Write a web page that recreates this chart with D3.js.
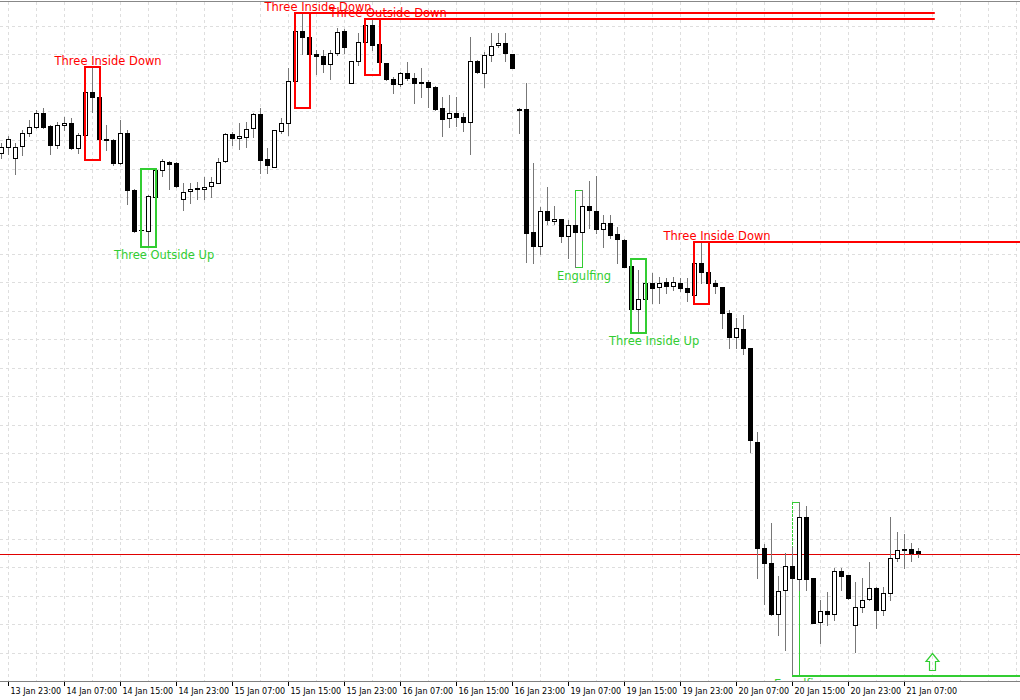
<!DOCTYPE html>
<html>
<head>
<meta charset="utf-8">
<script src="https://cdn.jsdelivr.net/npm/d3@7"></script>
<style>
  body { margin: 0; background: #fff; }
  svg { display: block; }
</style>
</head>
<body>
<div id="chart"></div>
<script>
// hourly candles, 13 Jan 22:00 .. 21 Jan 09:00 (weekend skipped)
var open = [1.1847,1.1853,1.1842,1.1854,1.1867,1.1873,1.1887,1.1874,1.1855,1.1875,
  1.1877,1.1852,1.1865,1.1908,1.1903,1.1861,1.1860,1.1837,1.1867,1.1810,
  1.1770,1.1769,1.1803,1.1830,1.1838,1.1837,1.1801,1.1809,1.1812,1.1811,
  1.1814,1.1817,1.1839,1.1866,1.1862,1.1863,1.1872,1.1886,1.1841,1.1833,
  1.1869,1.1877,1.1919,1.1969,1.1963,1.1946,1.1944,1.1936,1.1947,1.1969,
  1.1917,1.1939,1.1958,1.1975,1.1956,1.1937,1.1921,1.1916,1.1927,1.1922,
  1.1918,1.1918,1.1913,1.1892,1.1882,1.1887,1.1883,1.1878,1.1939,1.1927,
  1.1945,1.1955,1.1957,1.1946,1.1891,1.1891,1.1768,1.1754,1.1789,1.1779,
  1.1781,1.1764,1.1775,1.1768,1.1794,1.1789,1.1771,1.1777,1.1766,1.1760,
  1.1734,1.1691,1.1701,1.1717,1.1713,1.1718,1.1714,1.1717,1.1712,1.1705,
  1.1737,1.1728,1.1717,1.1713,1.1687,1.1663,1.1671,1.1652,1.1558,1.1452,
  1.1437,1.1386,1.1410,1.1434,1.1421,1.1483,1.1422,1.1378,1.1389,1.1386,
  1.1429,1.1425,1.1375,1.1393,1.1401,1.1412,1.1390,1.1407,1.1442,1.1451,
  1.1451,1.1449];
var high = [1.1857,1.1864,1.1857,1.1870,1.1880,1.1890,1.1892,1.1875,1.1878,1.1883,
  1.1882,1.1867,1.1910,1.1933,1.1922,1.1875,1.1861,1.1880,1.1870,1.1811,
  1.1785,1.1805,1.1831,1.1841,1.1839,1.1838,1.1817,1.1817,1.1818,1.1823,
  1.1823,1.1842,1.1867,1.1868,1.1877,1.1878,1.1887,1.1892,1.1852,1.1870,
  1.1882,1.1932,1.1987,1.1987,1.1969,1.1950,1.1950,1.1950,1.1972,1.1971,
  1.1939,1.1967,1.1981,1.1981,1.1957,1.1937,1.1923,1.1928,1.1938,1.1927,
  1.1932,1.1920,1.1914,1.1903,1.1905,1.1903,1.1887,1.1963,1.1940,1.1948,
  1.1967,1.1967,1.1967,1.1946,1.1892,1.1917,1.1837,1.1793,1.1813,1.1794,
  1.1781,1.1780,1.1780,1.1810,1.1819,1.1824,1.1785,1.1785,1.1773,1.1761,
  1.1741,1.1730,1.1723,1.1727,1.1723,1.1722,1.1723,1.1722,1.1722,1.1758,
  1.1757,1.1737,1.1720,1.1713,1.1690,1.1682,1.1685,1.1652,1.1568,1.1456,
  1.1477,1.1424,1.1447,1.1453,1.1498,1.1494,1.1422,1.1400,1.1408,1.1432,
  1.1432,1.1425,1.1418,1.1422,1.1438,1.1413,1.1413,1.1483,1.1468,1.1466,
  1.1457,1.1452];
var low = [1.1842,1.1846,1.1826,1.1845,1.1864,1.1872,1.1872,1.1846,1.1852,1.1870,
  1.1851,1.1847,1.1841,1.1888,1.1860,1.1850,1.1835,1.1836,1.1796,1.1768,
  1.1768,1.1754,1.1803,1.1824,1.1811,1.1813,1.1790,1.1797,1.1801,1.1801,
  1.1803,1.1817,1.1838,1.1855,1.1851,1.1853,1.1863,1.1827,1.1827,1.1833,
  1.1867,1.1865,1.1893,1.1946,1.1926,1.1926,1.1928,1.1921,1.1945,1.1947,
  1.1917,1.1935,1.1953,1.1950,1.1926,1.1920,1.1907,1.1914,1.1920,1.1897,
  1.1903,1.1893,1.1890,1.1864,1.1873,1.1874,1.1869,1.1846,1.1927,1.1913,
  1.1939,1.1953,1.1939,1.1932,1.1867,1.1738,1.1737,1.1746,1.1776,1.1776,
  1.1758,1.1742,1.1733,1.1760,1.1772,1.1767,1.1753,1.1762,1.1737,1.1733,
  1.1690,1.1668,1.1690,1.1697,1.1697,1.1707,1.1710,1.1709,1.1699,1.1697,
  1.1717,1.1697,1.1707,1.1672,1.1652,1.1652,1.1646,1.1548,1.1422,1.1396,
  1.1385,1.1365,1.1350,1.1325,1.1410,1.1410,1.1377,1.1357,1.1375,1.1380,
  1.1410,1.1401,1.1348,1.1388,1.1400,1.1372,1.1385,1.1400,1.1439,1.1432,
  1.1439,1.1443];
var close = [1.1853,1.1861,1.1853,1.1867,1.1873,1.1887,1.1873,1.1855,1.1875,1.1877,
  1.1852,1.1865,1.1908,1.1903,1.1861,1.1860,1.1837,1.1867,1.1810,1.1769,
  1.1770,1.1804,1.1830,1.1839,1.1836,1.1814,1.1808,1.1811,1.1811,1.1813,
  1.1818,1.1838,1.1866,1.1862,1.1864,1.1871,1.1886,1.1840,1.1835,1.1870,
  1.1877,1.1919,1.1969,1.1963,1.1946,1.1944,1.1936,1.1947,1.1968,1.1953,
  1.1939,1.1958,1.1975,1.1955,1.1938,1.1921,1.1916,1.1927,1.1922,1.1917,
  1.1917,1.1913,1.1891,1.1881,1.1887,1.1883,1.1878,1.1939,1.1928,1.1945,
  1.1954,1.1957,1.1947,1.1932,1.1890,1.1767,1.1754,1.1789,1.1780,1.1781,
  1.1764,1.1775,1.1768,1.1794,1.1790,1.1771,1.1777,1.1765,1.1761,1.1733,
  1.1691,1.1701,1.1717,1.1712,1.1717,1.1714,1.1718,1.1712,1.1708,1.1737,
  1.1728,1.1717,1.1714,1.1687,1.1663,1.1672,1.1652,1.1560,1.1452,1.1437,
  1.1386,1.1409,1.1434,1.1422,1.1483,1.1421,1.1377,1.1389,1.1386,1.1429,
  1.1424,1.1402,1.1393,1.1400,1.1412,1.1390,1.1407,1.1442,1.1450,1.1450,
  1.1447,1.1447];

var bid = 1.1446;

// time axis labels (every 8 bars, starting at bar 1)
var tickLabels = ["13 Jan 23:00","14 Jan 07:00","14 Jan 15:00","14 Jan 23:00","15 Jan 07:00",
  "15 Jan 15:00","15 Jan 23:00","16 Jan 07:00","16 Jan 15:00","16 Jan 23:00","19 Jan 07:00",
  "19 Jan 15:00","19 Jan 23:00","20 Jan 07:00","20 Jan 15:00","20 Jan 23:00","21 Jan 07:00"];
var tickIdx = tickLabels.map(function(d, i){ return 1 + i * 8; });

// candle patterns found by the indicator
var patName  = ["Three Inside Down","Three Outside Up","Three Inside Down","Three Outside Down",
                "Engulfing","Three Inside Up","Three Inside Down","Engulfing"];
var patStart = [12, 20, 42, 52, 82, 90, 99, 113];
var patEnd   = [14, 22, 44, 54, 83, 92, 101, 114];
var patBear  = [true, false, true, true, false, false, true, false];
var patLabelAt = [15.3, 23.3, 45.3, 55.3, 83.3, 93.3, 102.3, 114.3];
// level line end (bar index), null = no line, Infinity = right edge
var patLineEnd = [null, null, 133.4, 133.4, null, null, Infinity, Infinity];
var arrowIdx = 133;

var W = 1020, H = 700, plotBottom = 681;
var RED = "#ff0000", GREEN = "#32cd32";

var svg = d3.select("#chart").append("svg")
    .attr("width", W).attr("height", H)
    .style("font-family", "'DejaVu Sans', sans-serif");

svg.append("rect").attr("width", W).attr("height", H).attr("fill", "#fff");

var x = d3.scaleLinear().domain([0, 131]).range([1, 918]);
var y = d3.scaleLinear().domain([1.2, 1.13]).range([0, 700]);

svg.append("defs").append("clipPath").attr("id", "plot")
  .append("rect").attr("x", 0).attr("y", 2).attr("width", W).attr("height", plotBottom - 2);

var plot = svg.append("g").attr("clip-path", "url(#plot)");

// grid
var gridTop = 1.1974, gridStep = 0.00285;
var hGrid = d3.range(0, 23).map(function(k){ return gridTop - k * gridStep; });
var vGrid = d3.range(1, 146, 4);
var grid = plot.append("g").attr("stroke", "#dedede").attr("stroke-dasharray", "3,3")
    .attr("shape-rendering", "crispEdges");
grid.selectAll(".h").data(hGrid).enter().append("line")
    .attr("x1", 0).attr("x2", W)
    .attr("y1", function(d){ return Math.round(y(d)) + 0.5; })
    .attr("y2", function(d){ return Math.round(y(d)) + 0.5; });
grid.selectAll(".v").data(vGrid).enter().append("line")
    .attr("y1", 2).attr("y2", plotBottom)
    .attr("x1", function(d){ return Math.round(x(d)) + 0.5; })
    .attr("x2", function(d){ return Math.round(x(d)) + 0.5; });

// bid line
plot.append("line").attr("x1", 0).attr("x2", W)
    .attr("y1", Math.round(y(bid)) + 0.5).attr("y2", Math.round(y(bid)) + 0.5)
    .attr("stroke", "#e00000").attr("stroke-width", 1).attr("shape-rendering", "crispEdges");

// patterns: box geometry
var pats = d3.range(patName.length).map(function(k){
  var r = d3.range(patStart[k], patEnd[k] + 1);
  var hi = d3.max(r, function(i){ return high[i]; });
  var lo = d3.min(r, function(i){ return low[i]; });
  var x0 = Math.round(x(patStart[k])), x1 = Math.round(x(patEnd[k])) + 1;
  var y0 = Math.round(y(hi)), y1 = Math.round(y(lo)) + 1;
  return {k: k, x0: x0, x1: x1, y0: y0, y1: y1, col: patBear[k] ? RED : GREEN,
          thin: patName[k] === "Engulfing"};
});

function drawBox(g, p) {
  var sw = p.thin ? 1 : 2;
  var off = p.thin ? 0.5 : 0;
  var l = p.x0 + off, r = p.x1 - off, t = p.y0 + off, b = p.y1 - off;
  var sides = [
    {s: "top", a: [l, t, r, t]}, {s: "bottom", a: [l, b, r, b]},
    {s: "left", a: [l, t, l, b]}, {s: "right", a: [r, t, r, b]}
  ];
  // the side sitting on the last/first wick is drawn dotted, as in the terminal
  var dotted = p.k === 6 ? "right" : (p.k === 7 ? "left" : null);
  sides.forEach(function(sd){
    g.append("line")
      .attr("x1", sd.a[0]).attr("y1", sd.a[1]).attr("x2", sd.a[2]).attr("y2", sd.a[3])
      .attr("stroke", p.col).attr("stroke-width", sd.s === dotted ? 1.5 : sw)
      .attr("stroke-dasharray", sd.s === dotted ? "2,2" : null)
      .attr("stroke-linecap", "square");
  });
}

// thin engulfing boxes sit under the candles
var under = plot.append("g").attr("shape-rendering", "crispEdges");
pats.filter(function(p){ return p.thin; }).forEach(function(p){ drawBox(under, p); });

// candles
var bars = d3.range(open.length);
var cg = plot.append("g").attr("shape-rendering", "crispEdges");
cg.selectAll(".wick").data(bars).enter().append("line")
    .attr("x1", function(i){ return Math.round(x(i)) + 0.5; })
    .attr("x2", function(i){ return Math.round(x(i)) + 0.5; })
    .attr("y1", function(i){ return Math.round(y(high[i])); })
    .attr("y2", function(i){ return Math.round(y(low[i])) + 1; })
    .attr("stroke", "#777");

cg.selectAll(".body").data(bars.filter(function(i){ return open[i] !== close[i]; }))
  .enter().append("rect")
    .attr("x", function(i){ return Math.round(x(i)) - 1.5; })
    .attr("width", 4)
    .attr("y", function(i){ return Math.round(y(Math.max(open[i], close[i]))) + 0.5; })
    .attr("height", function(i){
      return Math.max(1, Math.round(y(Math.min(open[i], close[i]))) - Math.round(y(Math.max(open[i], close[i]))));
    })
    .attr("fill", function(i){ return close[i] > open[i] ? "#fff" : "#000"; })
    .attr("stroke", "#000");

cg.selectAll(".doji").data(bars.filter(function(i){ return open[i] === close[i]; }))
  .enter().append("line")
    .attr("x1", function(i){ return Math.round(x(i)) - 2; })
    .attr("x2", function(i){ return Math.round(x(i)) + 3; })
    .attr("y1", function(i){ return Math.round(y(open[i])) + 0.5; })
    .attr("y2", function(i){ return Math.round(y(open[i])) + 0.5; })
    .attr("stroke", "#000");

// other boxes, level lines and labels on top
var pg = plot.append("g");
pats.forEach(function(p){
  var k = p.k;
  if (!p.thin) drawBox(pg.append("g").attr("shape-rendering", "crispEdges"), p);
  if (patLineEnd[k] !== null) {
    var lvl = patBear[k] ? p.y0 : p.y1;
    var xe = isFinite(patLineEnd[k]) ? x(patLineEnd[k]) : W;
    pg.append("line").attr("x1", p.x0).attr("x2", xe)
      .attr("y1", lvl).attr("y2", lvl)
      .attr("stroke", p.col).attr("stroke-width", 2);
  }
  pg.append("text")
    .attr("x", x(patLabelAt[k]))
    .attr("y", patBear[k] ? p.y0 - 6 : p.y1 + 7.5)
    .attr("text-anchor", "middle").attr("dominant-baseline", "central")
    .attr("font-size", "11.5px").attr("fill", p.col)
    .text(patName[k]);
});

// up arrow at the last engulfing level
var last = pats[pats.length - 1];
var ax = Math.round(x(arrowIdx)) + 0.5, ay = last.y1 - 5.5;
pg.append("path")
  .attr("d", "M" + ax + "," + (ay - 17) + "L" + (ax + 6.5) + "," + (ay - 9) + "L" + (ax + 3) + "," + (ay - 9) +
             "L" + (ax + 3) + "," + ay + "L" + (ax - 3) + "," + ay + "L" + (ax - 3) + "," + (ay - 9) +
             "L" + (ax - 6.5) + "," + (ay - 9) + "Z")
  .attr("fill", "none").attr("stroke", GREEN).attr("stroke-width", 1.2);

// frame + time axis
svg.append("line").attr("x1", 0).attr("x2", W).attr("y1", 1.5).attr("y2", 1.5)
  .attr("stroke", "#888").attr("shape-rendering", "crispEdges");
svg.append("line").attr("x1", 0).attr("x2", W).attr("y1", plotBottom + 0.5).attr("y2", plotBottom + 0.5)
  .attr("stroke", "#808080").attr("shape-rendering", "crispEdges");

var xAxis = d3.axisBottom(x).tickValues(tickIdx)
  .tickFormat(function(d, i){ return tickLabels[i]; })
  .tickSize(4);
var axG = svg.append("g").attr("transform", "translate(0," + (plotBottom + 1) + ")").call(xAxis);
axG.select(".domain").remove();
axG.selectAll(".tick line").attr("stroke", "#000").attr("shape-rendering", "crispEdges");
axG.selectAll(".tick text")
  .attr("text-anchor", "start").attr("x", 2).attr("y", 6)
  .attr("fill", "#000")
  .style("font-family", "'DejaVu Sans', sans-serif").style("font-size", "8px");
</script>
</body>
</html>
